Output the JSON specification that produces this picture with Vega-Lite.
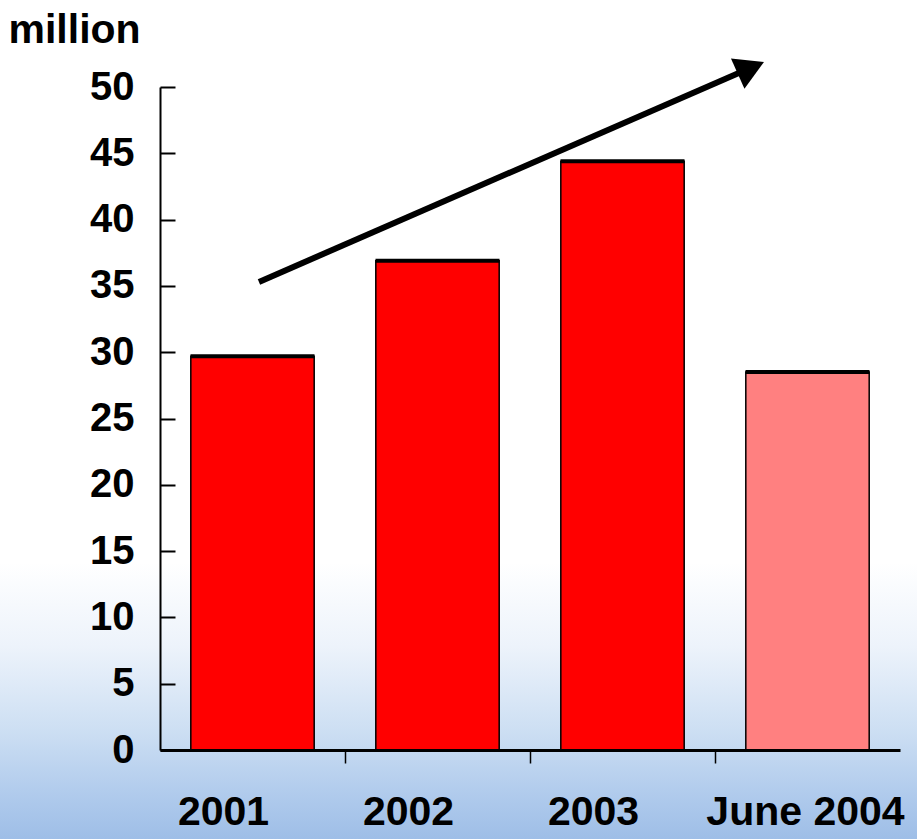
{
  "$schema": "https://vega.github.io/schema/vega-lite/v6.json",
  "width": 917,
  "height": 839,
  "autosize": {"type": "none"},
  "padding": 0,
  "background": "white",
  "config": {
    "font": "Liberation Sans",
    "view": {
      "stroke": null,
      "fill": {
        "gradient": "linear",
        "x1": 0, "y1": 0, "x2": 0, "y2": 1,
        "stops": [
          {"offset": 0, "color": "#ffffff"},
          {"offset": 0.67, "color": "#ffffff"},
          {"offset": 0.77, "color": "#edf3fb"},
          {"offset": 0.87, "color": "#cddff3"},
          {"offset": 0.95, "color": "#afcaec"},
          {"offset": 1, "color": "#9ebee7"}
        ]
      }
    }
  },
  "layer": [
    {
      "data": {
        "values": [
          {"period": "2001", "value": 29.7},
          {"period": "2002", "value": 36.9},
          {"period": "2003", "value": 44.4},
          {"period": "June 2004", "value": 28.5}
        ]
      },
      "layer": [
        {
          "mark": {"type": "bar", "width": {"band": 0.667}, "stroke": "black", "strokeWidth": 1.5},
          "encoding": {
            "x": {
              "field": "period", "type": "nominal", "sort": null,
              "scale": {"range": [160, 900], "paddingInner": 0, "paddingOuter": 0},
              "axis": {
                "orient": "bottom",
                "offset": -89,
                "bandPosition": 0,
                "domainColor": "black",
                "domainWidth": 3,
                "tickColor": "black",
                "tickWidth": 1.5,
                "tickSize": 13,
                "tickOpacity": {"condition": {"test": "datum.value === '2001'", "value": 0}, "value": 1},
                "labelFontSize": 41,
                "labelFontWeight": "bold",
                "labelColor": "black",
                "labelPadding": 29,
                "labelAngle": 0,
                "labelLimit": 0,
                "labelOffset": {"condition": {"test": "datum.value === 'June 2004'", "value": -2}, "value": -29},
                "labelFlush": false,
                "labelOverlap": false,
                "title": null,
                "zindex": 1
              }
            },
            "y": {
              "field": "value", "type": "quantitative",
              "scale": {"domain": [0, 50], "range": [750, 87], "nice": false},
              "axis": {
                "values": [0, 5, 10, 15, 20, 25, 30, 35, 40, 45, 50],
                "offset": -160,
                "grid": false,
                "domainColor": "black",
                "domainWidth": 2,
                "tickColor": "black",
                "tickWidth": 2,
                "tickSize": -15,
                "labelFontSize": 40,
                "labelFontWeight": "bold",
                "labelColor": "black",
                "labelPadding": 41,
                "labelFlush": false,
                "labelOverlap": false,
                "title": "million",
                "titleAngle": 0,
                "titleAlign": "left",
                "titleBaseline": "alphabetic",
                "titleX": -152,
                "titleY": 42,
                "titleFontSize": 41,
                "titleFontWeight": "bold",
                "titleColor": "black",
                "zindex": 1
              }
            },
            "color": {
              "field": "period", "type": "nominal", "sort": null,
              "scale": {"domain": ["2001", "2002", "2003", "June 2004"], "range": ["#ff0000", "#ff0000", "#ff0000", "#ff8080"]},
              "legend": null
            }
          }
        },
        {
          "mark": {"type": "tick", "size": 124, "thickness": 4, "color": "black", "opacity": 1},
          "encoding": {
            "x": {"field": "period", "type": "nominal", "sort": null},
            "y": {"field": "value", "type": "quantitative", "scale": {"domain": [0, 50], "range": [750, 87], "nice": false}}
          }
        }
      ]
    },
    {
      "layer": [
        {
          "data": {"values": [{"x": 0.535, "y": 35.3, "x2": 3.135, "y2": 51.1}]},
          "mark": {"type": "rule", "strokeWidth": 6, "color": "black"},
          "encoding": {
            "x": {"field": "x", "type": "quantitative", "scale": {"domain": [0, 4], "range": [160, 900], "nice": false, "zero": false}, "axis": null},
            "x2": {"field": "x2"},
            "y": {"field": "y", "type": "quantitative", "scale": {"domain": [0, 50], "range": [750, 87], "nice": false}},
            "y2": {"field": "y2"}
          }
        },
        {
          "data": {"values": [{"x": 3.17, "y": 51.3}]},
          "mark": {"type": "point", "shape": "triangle", "filled": true, "size": 1100, "angle": 66, "color": "black", "opacity": 1},
          "encoding": {
            "x": {"field": "x", "type": "quantitative", "scale": {"domain": [0, 4], "range": [160, 900], "nice": false, "zero": false}, "axis": null},
            "y": {"field": "y", "type": "quantitative", "scale": {"domain": [0, 50], "range": [750, 87], "nice": false}}
          }
        }
      ]
    }
  ],
  "resolve": {"scale": {"x": "independent"}}
}
